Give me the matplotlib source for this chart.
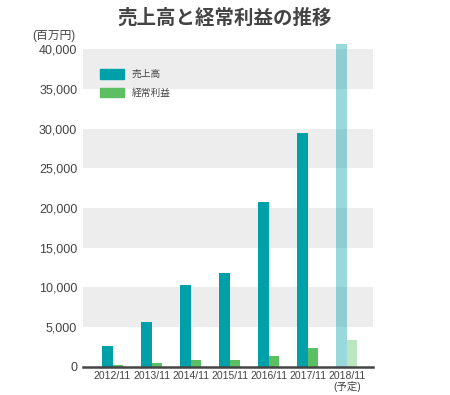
import matplotlib
matplotlib.use("Agg")
import matplotlib.pyplot as plt
from matplotlib.patches import Patch

plt.rcParams['font.family'] = ['Liberation Sans', 'Noto Sans CJK JP', 'DejaVu Sans']

# データ（百万円）
years = ["2012/11", "2013/11", "2014/11", "2015/11", "2016/11", "2017/11", "2018/11\n(予定)"]
sales = [2650, 5700, 10350, 11850, 20750, 29450, 40600]
profit = [300, 500, 850, 900, 1400, 2350, 3400]

teal = "#00a0a9"
green = "#5cbf63"

fig = plt.figure(figsize=(4.5, 3.95), dpi=100)
ax = fig.add_axes([0.184, 0.071, 0.645, 0.821])

# 縞模様の背景
for lo in range(5000, 40000, 10000):
    ax.axhspan(lo, lo + 5000, color="#ededee", zorder=0, lw=0)

x = list(range(len(years)))
n = len(years)
# 実績
ax.bar([i - 0.28 for i in x[:-1]], sales[:-1], width=0.28, align="edge", color=teal, zorder=2)
ax.bar(x[:-1], profit[:-1], width=0.26, align="edge", color=green, zorder=2)
# 予定（薄く）
ax.bar(x[-1] - 0.28, sales[-1], width=0.28, align="edge", color=teal, alpha=0.4, zorder=2, lw=0)
ax.bar(x[-1], profit[-1], width=0.26, align="edge", color=green, alpha=0.4, zorder=2, lw=0)

ax.set_xlim(-0.76, 6.66)
ax.set_ylim(0, 40800)
ax.set_yticks(range(0, 40001, 5000))
ax.set_yticklabels(["{:,}".format(v) for v in range(0, 40001, 5000)], fontsize=9, color="#444444")
ax.set_xticks(x)
ax.set_xticklabels(years, fontsize=7.5, color="#444444", linespacing=0.95)
ax.tick_params(length=0, pad=3)
ax.tick_params(axis="y", pad=4)

for s in ["top", "right", "left"]:
    ax.spines[s].set_visible(False)
ax.spines["bottom"].set_color("#444444")
ax.spines["bottom"].set_linewidth(1.8)
ax.spines["bottom"].set_zorder(3)

handles = [Patch(color=teal, label="売上高"), Patch(color=green, label="経常利益")]
ax.legend(handles=handles, loc="upper left", bbox_to_anchor=(0.03, 0.945), frameon=False,
          fontsize=7, handlelength=2.4, handleheight=1.1, labelspacing=0.9,
          handletextpad=0.8, labelcolor="#444444")

fig.text(0.5, 0.955, "売上高と経常利益の推移", ha="center", va="center",
         fontsize=14, fontweight="bold", color="#444444")
fig.text(0.072, 0.91, "(百万円)", ha="left", va="center", fontsize=8.5, color="#444444")

fig.savefig("out.png", dpi=100)
